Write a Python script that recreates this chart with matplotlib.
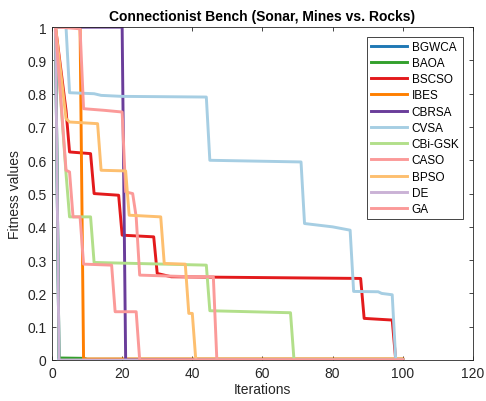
import numpy as np
import matplotlib
matplotlib.use("Agg")
import matplotlib.pyplot as plt
from matplotlib.ticker import FuncFormatter

plt.rcParams['font.family'] = ['Liberation Sans', 'DejaVu Sans']

# convergence curves: (iteration, fitness) vertices for each algorithm
bgwca_x = [1, 2, 100]
bgwca_y = [1.0, 0.0, 0.0]

baoa_x = [1, 2, 9, 10, 100]
baoa_y = [1.0, 0.006, 0.005, 0.002, 0.002]

bscso_x = [1, 4, 5, 11, 12, 19, 20, 29, 30, 34, 88, 89, 97, 98, 100]
bscso_y = [1.0, 0.75, 0.625, 0.62, 0.50, 0.495, 0.375, 0.37, 0.26, 0.25,
           0.245, 0.125, 0.12, 0.0, 0.0]

ibes_x = [1, 8, 9, 100]
ibes_y = [1.0, 1.0, 0.003, 0.003]

cbrsa_x = [1, 20, 21, 100]
cbrsa_y = [1.0, 1.0, 0.0, 0.0]

cvsa_x = [1, 4, 5, 12, 14, 20, 44, 45, 71, 72, 80, 85, 86, 93, 94, 97, 98, 100]
cvsa_y = [1.0, 1.0, 0.803, 0.80, 0.795, 0.792, 0.79, 0.60, 0.595, 0.41,
          0.40, 0.39, 0.206, 0.205, 0.20, 0.196, 0.0, 0.0]

cbigsk_x = [1, 4, 5, 11, 12, 44, 45, 68, 69, 100]
cbigsk_y = [1.0, 0.56, 0.43, 0.43, 0.293, 0.285, 0.148, 0.142, 0.0, 0.0]

caso_x = [1, 2, 8, 9, 15, 20, 21, 23, 24, 25, 40, 46, 47, 100]
caso_y = [1.0, 1.0, 0.995, 0.755, 0.75, 0.745, 0.505, 0.50, 0.43, 0.255,
          0.25, 0.25, 0.0, 0.0]

bpso_x = [1, 4, 5, 13, 14, 21, 22, 31, 32, 38, 39, 40, 41, 100]
bpso_y = [1.0, 0.725, 0.715, 0.71, 0.57, 0.568, 0.435, 0.43, 0.29, 0.288,
          0.14, 0.14, 0.0, 0.0]

de_x = [1, 2, 100]
de_y = [1.0, 0.0, 0.0]

ga_x = [1, 4, 5, 6, 8, 9, 17, 18, 24, 25, 100]
ga_y = [1.0, 0.57, 0.565, 0.43, 0.43, 0.288, 0.285, 0.145, 0.145, 0.0, 0.0]

names = ['BGWCA', 'BAOA', 'BSCSO', 'IBES', 'CBRSA', 'CVSA', 'CBi-GSK',
         'CASO', 'BPSO', 'DE', 'GA']
colors = ['#1f78b4', '#33a02c', '#e31a1c', '#ff7f00', '#6a3d9a', '#a6cee3',
          '#b2df8a', '#fb9a99', '#fdbf6f', '#cab2d6', '#fb9a99']
curves = [(bgwca_x, bgwca_y), (baoa_x, baoa_y), (bscso_x, bscso_y),
          (ibes_x, ibes_y), (cbrsa_x, cbrsa_y), (cvsa_x, cvsa_y),
          (cbigsk_x, cbigsk_y), (caso_x, caso_y), (bpso_x, bpso_y),
          (de_x, de_y), (ga_x, ga_y)]

fig = plt.figure(figsize=(4.86, 4.02), dpi=100)
ax = fig.add_axes([0.107, 0.102, 0.866, 0.828])

for (x, y), name, c in zip(curves, names, colors):
    ax.plot(x, y, color=c, lw=2.1, label=name)

ax.set_xlim(0, 120)
ax.set_ylim(0, 1)
ax.set_xticks(np.arange(0, 121, 20))
ax.set_yticks(np.arange(0, 1.01, 0.1))
ax.yaxis.set_major_formatter(FuncFormatter(lambda v, p: '%g' % round(v, 2)))

dark = '#262626'
for s in ax.spines.values():
    s.set_color(dark)
    s.set_linewidth(0.6)
ax.tick_params(direction='in', top=True, right=True, length=3, width=0.6,
               colors=dark, labelsize=10, pad=4)

ax.set_title('Connectionist Bench (Sonar, Mines vs. Rocks)', fontsize=10,
             fontweight='bold', pad=5)
ax.set_xlabel('Iterations', fontsize=10, color=dark, labelpad=2)
ax.set_ylabel('Fitness values', fontsize=10, color=dark, labelpad=4)

leg = ax.legend(loc='upper right', fontsize=8.5, fancybox=False,
                edgecolor=dark, framealpha=1, handlelength=3.1,
                handletextpad=0.35, labelspacing=0.36, borderpad=0.35,
                borderaxespad=0.8)
leg.get_frame().set_linewidth(0.6)

fig.savefig('out.png', dpi=100)
